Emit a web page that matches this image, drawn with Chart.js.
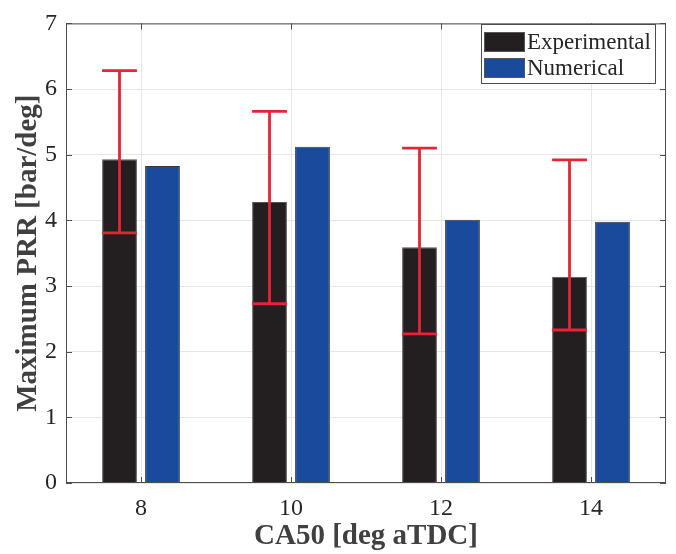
<!DOCTYPE html>
<html>
<head>
<meta charset="utf-8">
<script src="https://cdn.jsdelivr.net/npm/chart.js@4.4.1/dist/chart.umd.min.js"></script>
<style>
  html, body { margin: 0; padding: 0; background: #fff; }
  #wrap { width: 676px; height: 554px; }
</style>
</head>
<body>
<div id="wrap"><canvas id="myChart" width="676" height="554"></canvas></div>
<script>
//** DATA */
const ca50Labels = ['8', '10', '12', '14'];
const experimental = [4.93, 4.28, 3.59, 3.14];
const numerical = [4.83, 5.12, 4.01, 3.98];
const expErrLow = [3.81, 2.73, 2.27, 2.33];
const expErrHigh = [6.28, 5.66, 5.10, 4.92];

const axisColor = '#4d4d4d';
const textColor = '#262626';
const serif = "'Liberation Serif', 'Times New Roman', serif";

//** ERROR BARS, BOX, TICKS AND LEGEND (matlab look) */
const matlabBits = {
  id: 'matlabBits',
  afterDatasetsDraw(chart) {
    const { ctx, chartArea: a, scales } = chart;
    const x = scales.x, y = scales.y;

    // error bars on the experimental bars
    const meta = chart.getDatasetMeta(0);
    ctx.save();
    ctx.strokeStyle = '#e52535';
    ctx.lineWidth = 2.8;
    meta.data.forEach((bar, i) => {
      const cx = bar.x;
      const half = bar.width / 2;
      const yLo = y.getPixelForValue(expErrLow[i]);
      const yHi = y.getPixelForValue(expErrHigh[i]);
      ctx.beginPath();
      ctx.moveTo(cx, yLo); ctx.lineTo(cx, yHi);
      ctx.moveTo(cx - half, yHi); ctx.lineTo(cx + half, yHi);
      ctx.moveTo(cx - half, yLo); ctx.lineTo(cx + half, yLo);
      ctx.stroke();
    });
    ctx.restore();

    // frame
    ctx.save();
    ctx.strokeStyle = axisColor;
    ctx.lineWidth = 1;
    ctx.strokeRect(a.left + 0.5, a.top + 0.5, a.right - a.left - 1, a.bottom - a.top - 1);

    // inward tick marks
    const tl = 6;
    ctx.beginPath();
    y.ticks.forEach(t => {
      const py = Math.round(y.getPixelForValue(t.value)) + 0.5;
      ctx.moveTo(a.left, py); ctx.lineTo(a.left + tl, py);
      ctx.moveTo(a.right, py); ctx.lineTo(a.right - tl, py);
    });
    ca50Labels.forEach((l, i) => {
      const px = Math.round(x.getPixelForValue(i)) + 0.5;
      ctx.moveTo(px, a.bottom); ctx.lineTo(px, a.bottom - tl);
      ctx.moveTo(px, a.top); ctx.lineTo(px, a.top + tl);
    });
    ctx.stroke();

    // legend
    const lx = 481, ly = 24, lw = 174, lh = 59;
    ctx.fillStyle = '#fff';
    ctx.fillRect(lx, ly, lw, lh);
    ctx.strokeStyle = axisColor;
    ctx.strokeRect(lx + 0.5, ly + 0.5, lw, lh);
    ctx.font = '23px ' + serif;
    ctx.textBaseline = 'middle';
    chart.data.datasets.forEach((ds, i) => {
      const sy = ly + 8 + i * 26;
      ctx.fillStyle = ds.backgroundColor;
      ctx.fillRect(lx + 3, sy, 40, 19);
      ctx.strokeStyle = '#555';
      ctx.strokeRect(lx + 3.5, sy + 0.5, 40, 19);
      ctx.fillStyle = textColor;
      ctx.fillText(ds.label, lx + 46, sy + 11);
    });
    ctx.restore();
  }
};

const data = {
  labels: ca50Labels,
  datasets: [
    {
      label: 'Experimental',
      data: experimental,
      backgroundColor: '#231f20',
      borderColor: '#555555',
      borderWidth: 1,
    },
    {
      label: 'Numerical',
      data: numerical,
      backgroundColor: '#1a4a9c',
      borderColor: '#3a3a3a',
      borderWidth: 1,
    },
  ],
};

const config = {
  type: 'bar',
  data: data,
  options: {
    responsive: false,
    animation: false,
    categoryPercentage: 0.573,
    barPercentage: 0.81,
    layout: {
      padding: { top: 17, right: 10, left: 0, bottom: 0 },
    },
    plugins: {
      legend: { display: false },
      tooltip: { enabled: false },
    },
    scales: {
      x: {
        offset: true,
        grid: { offset: false, color: '#e6e6e6', drawTicks: false },
        border: { display: false },
        ticks: {
          color: textColor,
          padding: 11,
          font: { family: serif, size: 24 },
        },
        title: {
          display: true,
          text: 'CA50 [deg aTDC]',
          color: '#404040',
          padding: { top: 0, bottom: 0 },
          font: { family: serif, size: 29, weight: 'bold' },
        },
        afterFit(scale) { scale.height = 71; },
      },
      y: {
        min: 0,
        max: 7,
        grid: { color: '#e6e6e6', drawTicks: false },
        border: { display: false },
        ticks: {
          stepSize: 1,
          color: textColor,
          padding: 9,
          font: { family: serif, size: 24 },
        },
        title: {
          display: true,
          text: 'Maximum PRR [bar/deg]',
          color: '#404040',
          padding: { top: 11, bottom: 0 },
          font: { family: serif, size: 29, weight: 'bold' },
        },
        afterFit(scale) { scale.width = 66; },
      },
    },
  },
  plugins: [matlabBits],
};

const chart = new Chart(document.getElementById('myChart'), config);
</script>
</body>
</html>
